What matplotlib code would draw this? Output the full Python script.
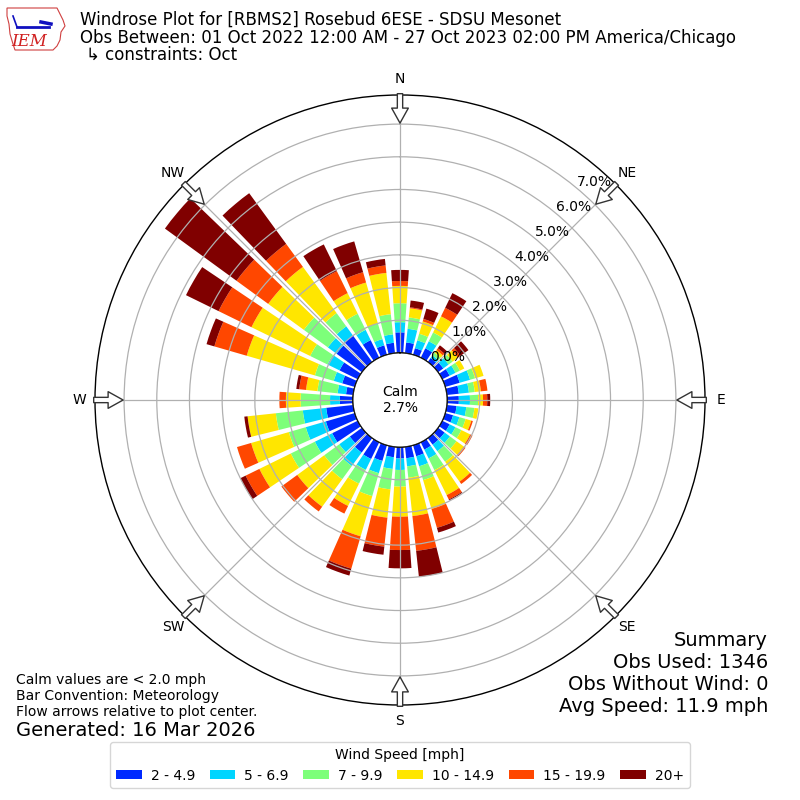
import matplotlib
matplotlib.use('Agg')
import matplotlib.pyplot as plt
import numpy as np
from matplotlib.patches import Patch, Polygon, Circle

# direction bins (deg from north) and frequency (%) per speed bin
DIRECTIONS = list(range(0, 360, 10))
SPEED_LABELS = ["2 - 4.9", "5 - 6.9", "7 - 9.9", "10 - 14.9", "15 - 19.9", "20+"]

SPD_2_5 = [0.63, 0.33, 0.21, 0.32, 0.15, 0.20, 0.25, 0.46, 0.37, 0.36,
           0.30, 0.25, 0.25, 0.25, 0.25, 0.25, 0.35, 0.35, 0.35, 0.32,
           0.50, 0.57, 0.55, 0.46, 0.87, 0.92, 0.83, 0.40, 0.22, 0.40,
           0.62, 0.96, 1.00, 0.60, 0.30, 0.32]
SPD_5_7 = [0.31, 0.42, 0.25, 0.24, 0.10, 0.20, 0.20, 0.33, 0.31, 0.34,
           0.30, 0.20, 0.20, 0.20, 0.25, 0.30, 0.32, 0.25, 0.35, 0.36,
           0.39, 0.37, 0.51, 0.40, 0.59, 0.64, 0.72, 0.30, 0.26, 0.27,
           0.41, 0.33, 0.35, 0.35, 0.20, 0.26]
SPD_7_10 = [0.58, 0.35, 0.21, 0.30, 0.10, 0.15, 0.15, 0.16, 0.18, 0.25,
            0.25, 0.20, 0.20, 0.25, 0.40, 0.40, 0.44, 0.35, 0.51, 0.63,
            0.73, 0.47, 0.50, 0.57, 0.82, 0.54, 0.83, 0.90, 0.62, 0.60,
            0.59, 0.91, 0.50, 0.55, 0.50, 0.62]
SPD_10_15 = [0.53, 0.28, 0.39, 0.55, 0.10, 0.20, 0.15, 0.27, 0.19, 0.15,
             0.12, 0.18, 0.30, 0.28, 0.75, 0.85, 0.92, 1.18, 0.92, 0.87,
             1.28, 0.76, 1.04, 1.02, 1.07, 1.20, 0.87, 0.45, 0.35, 2.17,
             2.00, 1.35, 1.75, 0.70, 1.30, 1.27]
SPD_15_20 = [0.15, 0.03, 0.08, 0.29, 0.07, 0.10, 0.00, 0.00, 0.20, 0.13,
             0.00, 0.05, 0.08, 0.06, 0.09, 0.15, 0.60, 1.07, 1.02, 0.89,
             1.03, 0.26, 0.18, 0.60, 0.47, 0.45, 0.00, 0.20, 0.21, 1.03,
             1.12, 1.20, 0.87, 0.75, 0.33, 0.23]
SPD_20_UP = [0.34, 0.21, 0.33, 0.50, 0.11, 0.30, 0.00, 0.00, 0.00, 0.09,
             0.00, 0.00, 0.00, 0.00, 0.00, 0.03, 0.15, 0.80, 0.56, 0.25,
             0.22, 0.00, 0.00, 0.00, 0.18, 0.00, 0.10, 0.00, 0.09, 0.25,
             1.11, 2.71, 1.92, 0.91, 0.98, 0.20]

RTICKS = [0, 1, 2, 3, 4, 5, 6, 7]
COMPASS = ["N", "NE", "E", "SE", "S", "SW", "W", "NW"]
CALM_PCT = 2.7

SUMMARY = ["Summary", "Obs Used: 1346", "Obs Without Wind: 0",
           "Avg Speed: 11.9 mph"]
NOTES = ["Calm values are < 2.0 mph", "Bar Convention: Meteorology",
         "Flow arrows relative to plot center."]

RMAX = 7.89
RORIGIN = -1.44

fig = plt.figure(figsize=(8, 8), dpi=100)
fig.patch.set_facecolor("white")

ax = fig.add_axes([95 / 800, 95 / 800, 610 / 800, 610 / 800], projection="polar")
ax.set_theta_zero_location("N")
ax.set_theta_direction(-1)

colors = [plt.get_cmap("jet")(i / 6.0) for i in range(1, 7)]
series = [SPD_2_5, SPD_5_7, SPD_7_10, SPD_10_15, SPD_15_20, SPD_20_UP]

theta = np.radians(DIRECTIONS)
width = np.radians(10) * 0.78
base = np.zeros(len(DIRECTIONS))
for vals, col in zip(series, colors):
    vals = np.array(vals)
    ax.bar(theta, vals, width=width, bottom=base, color=col,
           edgecolor="none", linewidth=0, zorder=1)
    base = base + vals

ax.set_rorigin(RORIGIN)
ax.set_ylim(0, RMAX)
ax.set_yticks(RTICKS)
ax.set_yticklabels([f"{v:.1f}%" for v in RTICKS], fontsize=10)
ax.set_rlabel_position(40)
ax.set_xticks(np.radians(range(0, 360, 45)))
ax.set_xticklabels(COMPASS, fontsize=10)
ax.tick_params(axis="x", pad=1)
ax.grid(True, color="#b0b0b0", linewidth=0.9)
ax.spines["polar"].set_linewidth(1.0)

# calm circle
ax.add_patch(Circle((0.5, 0.5), 47 / 610, transform=ax.transAxes,
                    fc="white", ec="black", lw=1.0, zorder=4))
ax.text(0.5, 0.5, f"Calm\n{CALM_PCT:.1f}%", transform=ax.transAxes,
        ha="center", va="center", fontsize=10, zorder=6)

# hollow flow arrows on the compass points
for deg in range(0, 360, 45):
    th = np.radians(deg)
    ax.annotate("", xy=(th, 7.03), xytext=(th, 7.93),
                arrowprops=dict(arrowstyle="simple,head_length=0.9,head_width=1.0,tail_width=0.32",
                                fc="white", ec="#333333", lw=1.0,
                                mutation_scale=12, shrinkA=0, shrinkB=0),
                annotation_clip=False, zorder=5)

# titles
fig.text(80 / 800, 1 - 20 / 800, "Windrose Plot for [RBMS2] Rosebud 6ESE - SDSU Mesonet",
         fontsize=12, va="center")
fig.text(80 / 800, 1 - 38 / 800,
         "Obs Between: 01 Oct 2022 12:00 AM - 27 Oct 2023 02:00 PM America/Chicago",
         fontsize=12, va="center")
fig.text(86 / 800, 1 - 55 / 800, "\u21b3 constraints: Oct", fontsize=12, va="center")

# IEM logo (rough)
lax = fig.add_axes([5 / 800, 1 - 52 / 800, 62 / 800, 48 / 800])
lax.set_xlim(0, 62)
lax.set_ylim(48, 0)
lax.axis("off")
iowa = [(2, 4), (52, 4), (55, 10), (58, 16), (60, 22), (56, 28), (55, 36),
        (52, 42), (48, 46), (10, 46), (8, 40), (5, 30), (4, 20), (2, 12)]
lax.add_patch(Polygon(iowa, closed=True, fc="white", ec="#d04040", lw=0.8))
lax.plot([12, 44], [23, 23], color="#1010c0", lw=2)
lax.plot([8, 12], [12, 23], color="#1010c0", lw=1.2)
lax.plot([36, 46], [18, 20], color="#1010c0", lw=2.5)
lax.text(24, 37, "IEM", color="#d02020", fontsize=12, fontstyle="italic",
         family="DejaVu Serif", ha="center", va="center")

# notes
for i, line in enumerate(NOTES):
    fig.text(16 / 800, 1 - (680 + 16 * i) / 800, line, fontsize=10, va="center")
fig.text(16 / 800, 1 - 730 / 800, "Generated: 16 Mar 2026", fontsize=14, va="center")

for i, line in enumerate(SUMMARY):
    fig.text(768 / 800, 1 - (640 + 22 * i) / 800, line, fontsize=14,
             ha="right", va="center")

handles = [Patch(facecolor=c, label=l) for c, l in zip(colors, SPEED_LABELS)]
fig.legend(handles=handles, loc="lower center", bbox_to_anchor=(0.5, 5 / 800),
           ncol=6, fontsize=10, title="Wind Speed [mph]", title_fontsize=10,
           handlelength=1.85, handleheight=0.6, handletextpad=0.65,
           columnspacing=1.05, frameon=True, edgecolor="#cccccc")

fig.savefig("out.png", dpi=100)
